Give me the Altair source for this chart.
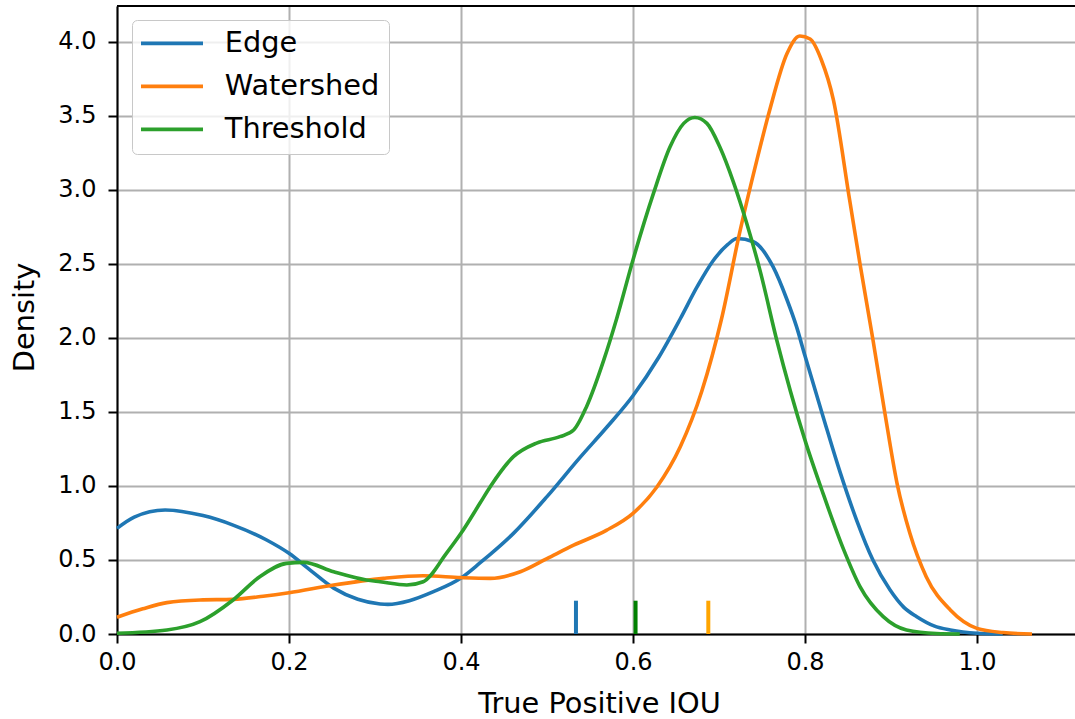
import altair as alt
import pandas as pd

# ---- data ----
series_names = ["Edge", "Watershed", "Threshold"]
line_colors = ["#1f77b4", "#ff7f0e", "#2ca02c"]

edge_x = [0.0, 0.02, 0.056, 0.1, 0.135, 0.174, 0.2, 0.225, 0.252, 0.28, 0.306, 0.315, 0.34,
          0.368, 0.4, 0.422, 0.461, 0.5, 0.538, 0.57, 0.6, 0.63, 0.655, 0.675, 0.693, 0.71,
          0.721, 0.74, 0.763, 0.779, 0.79, 0.8, 0.821, 0.841, 0.86, 0.879, 0.899, 0.915, 0.93,
          0.95, 0.969, 1.0, 1.03]
edge_y = [0.714, 0.79, 0.838, 0.80, 0.736, 0.635, 0.545, 0.43, 0.31, 0.235, 0.203, 0.2, 0.225,
          0.286, 0.378, 0.48, 0.68, 0.928, 1.19, 1.40, 1.61, 1.87, 2.13, 2.35, 2.52, 2.63,
          2.672, 2.65, 2.48, 2.26, 2.08, 1.88, 1.47, 1.09, 0.77, 0.5, 0.297, 0.18, 0.117,
          0.055, 0.027, 0.005, 0.0]

water_x = [0.0, 0.03, 0.058, 0.0965, 0.135, 0.17, 0.2, 0.252, 0.31, 0.356, 0.4, 0.434, 0.469,
           0.5, 0.531, 0.569, 0.6, 0.628, 0.655, 0.68, 0.703, 0.724, 0.744, 0.759, 0.779, 0.794,
           0.806, 0.819, 0.833, 0.852, 0.864, 0.879, 0.893, 0.907, 0.922, 0.941, 0.969, 1.0,
           1.03, 1.064]
water_y = [0.113, 0.17, 0.212, 0.23, 0.234, 0.255, 0.279, 0.331, 0.376, 0.394, 0.381, 0.376,
           0.421, 0.51, 0.60, 0.70, 0.815, 0.995, 1.265, 1.64, 2.13, 2.71, 3.2, 3.54, 3.92, 4.04,
           4.02, 3.88, 3.61, 2.93, 2.5, 1.99, 1.49, 1.02, 0.68, 0.387, 0.162, 0.038, 0.01, 0.0]

thresh_x = [0.0, 0.058, 0.0965, 0.135, 0.166, 0.197, 0.217, 0.252, 0.29, 0.306, 0.337, 0.356,
            0.383, 0.4, 0.422, 0.434, 0.461, 0.488, 0.515, 0.531, 0.546, 0.566, 0.581, 0.6,
            0.624, 0.643, 0.659, 0.672, 0.686, 0.701, 0.717, 0.732, 0.748, 0.767, 0.8, 0.821,
            0.845, 0.864, 0.891, 0.918, 0.953, 0.98]
thresh_y = [0.005, 0.027, 0.083, 0.23, 0.387, 0.477, 0.484, 0.42, 0.365, 0.353, 0.331, 0.353,
            0.545, 0.68, 0.883, 0.995, 1.198, 1.29, 1.333, 1.378, 1.536, 1.85, 2.13, 2.527,
            2.98, 3.29, 3.45, 3.49, 3.45, 3.29, 3.05, 2.78, 2.45, 1.99, 1.31, 0.95, 0.57, 0.32,
            0.117, 0.027, 0.003, 0.0]

marker_x = [0.5337, 0.603, 0.6876]
marker_colors = ["#1f77b4", "#008000", "#ffa500"]
marker_top = [0.225, 0.225, 0.225]

x_ticks = [0.0, 0.2, 0.4, 0.6, 0.8, 1.0]
y_ticks = [0.0, 0.5, 1.0, 1.5, 2.0, 2.5, 3.0, 3.5, 4.0]
X_MAX = 1.114
Y_MAX = 4.243

# ---- tables ----
rows = []
for name, xs, ys in zip(series_names, [edge_x, water_x, thresh_x], [edge_y, water_y, thresh_y]):
    for a, b in zip(xs, ys):
        rows.append({"series": name, "x": a, "y": b})
df = pd.DataFrame(rows)

mk = pd.DataFrame({"x": marker_x, "y0": [0.0] * 3, "y1": marker_top, "c": marker_colors})

FONT = "DejaVu Sans"
x_scale = alt.Scale(domain=[0, X_MAX], nice=False, zero=False)
y_scale = alt.Scale(domain=[0, Y_MAX], nice=False)

x_axis = alt.Axis(values=x_ticks, format=".1f", title="True Positive IOU",
                  titleX=482, titleY=78, titleBaseline="alphabetic", titleAlign="center",
                  labelPadding=7, tickSize=9, labelFlush=False)
y_axis = alt.Axis(values=y_ticks, format=".1f", title="Density",
                  titleX=-84, titleY=311, titleBaseline="alphabetic", titleAlign="center",
                  titleAngle=270, labelPadding=12, tickSize=9, labelFlush=False)

lines = alt.Chart(df).mark_line(strokeWidth=3.6, interpolate="monotone").encode(
    x=alt.X("x:Q", scale=x_scale, axis=x_axis),
    y=alt.Y("y:Q", scale=y_scale, axis=y_axis),
    color=alt.Color(
        "series:N",
        scale=alt.Scale(domain=series_names, range=line_colors),
        legend=alt.Legend(
            orient="none", legendX=15, legendY=14, title=None,
            symbolType="M-2.88,0H9.52", symbolSize=100, symbolStrokeWidth=3.6,
            labelFontSize=28.8, labelFont=FONT, labelColor="black", labelOffset=55,
            rowPadding=13, padding=9, fillColor="rgba(255,255,255,0.8)",
            strokeColor="#c8c8c8", cornerRadius=5,
        ),
    ),
)

markers = alt.Chart(mk).mark_rule(strokeWidth=4).encode(
    x=alt.X("x:Q", scale=x_scale),
    y=alt.Y("y0:Q", scale=y_scale),
    y2="y1:Q",
    color=alt.Color("c:N", scale=None),
)

top_border = alt.Chart(mk).mark_rule(color="black", strokeWidth=2).encode(
    y=alt.datum(Y_MAX)
)

chart = alt.layer(lines, markers, top_border).properties(
    width=958, height=628,
    autosize=alt.AutoSizeParams(type="none"),
    padding={"left": 117, "top": 6, "right": 0, "bottom": 85},
    background="white",
).configure_view(strokeWidth=0).configure_axis(
    labelFont=FONT, labelFontSize=24, labelColor="black",
    titleFont=FONT, titleFontSize=28.8, titleFontWeight="normal", titleColor="black",
    domainColor="black", domainWidth=2, tickColor="black", tickWidth=2,
    gridColor="#b0b0b0", gridWidth=2, grid=True,
)

chart.save("out.html", embed_options={"renderer": "svg", "actions": False})
